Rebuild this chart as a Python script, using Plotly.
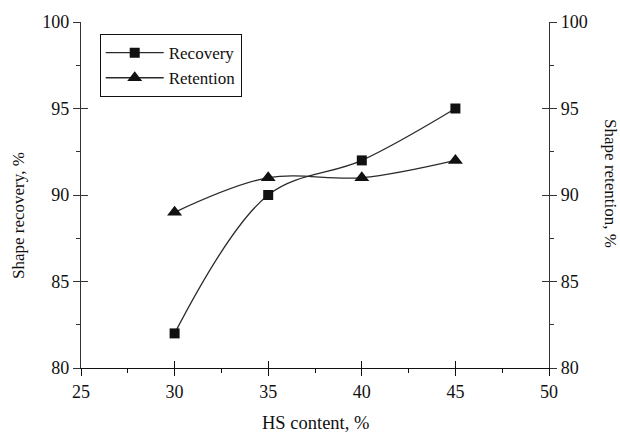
import plotly.graph_objects as go

hs_content = [30, 35, 40, 45]
recovery = [82, 90, 92, 95]
retention = [89, 91, 91, 92]

x_ticks = [25, 30, 35, 40, 45, 50]
y_ticks = [80, 85, 90, 95, 100]

FONT = "Liberation Serif"
AX = "#333333"

fig = go.Figure()
fig.add_trace(go.Scatter(
    x=hs_content, y=recovery, name="Recovery", mode="lines+markers",
    line=dict(color="#2a2a2a", width=1.3, shape="spline", smoothing=1),
    marker=dict(symbol="square", size=10, color="#111111"),
))
fig.add_trace(go.Scatter(
    x=hs_content, y=retention, name="Retention", mode="lines+markers",
    xaxis="x2", yaxis="y2",
    line=dict(color="#2a2a2a", width=1.3, shape="spline", smoothing=1),
    marker=dict(symbol="triangle-up", size=13, color="#111111"),
))
# empty traces so the inward-tick overlay axes get drawn (crossing ticks)
for ya in ("y3", "y4"):
    fig.add_trace(go.Scatter(x=[], y=[], xaxis="x2", yaxis=ya,
                             showlegend=False, hoverinfo="skip"))

common_x = dict(range=[25, 50], tickvals=x_ticks, showgrid=False, zeroline=False,
                showline=True, linecolor="#111111", linewidth=1.2,
                tickcolor="#111111", tickwidth=1.2, ticklen=7,
                minor=dict(dtick=2.5, tick0=25, ticklen=4, tickcolor="#111111", tickwidth=1))
common_y = dict(range=[80, 100], tickvals=y_ticks, showgrid=False, zeroline=False,
                showline=True, linecolor=AX, linewidth=1.2,
                tickcolor=AX, tickwidth=1.2, ticklen=7,
                minor=dict(dtick=2.5, tick0=80, ticklen=4, tickcolor=AX, tickwidth=1))

tick_font = dict(family=FONT, size=18, color="#111111")

fig.update_layout(
    width=620, height=433,
    margin=dict(l=81, r=71, t=20, b=65),
    paper_bgcolor="white", plot_bgcolor="white",
    showlegend=True,
    legend=dict(x=0.04, y=0.965, xanchor="left", yanchor="top",
                bordercolor="#111111", borderwidth=1, bgcolor="white",
                font=dict(family=FONT, size=17, color="#111111"),
                itemwidth=58),
    xaxis=dict(**common_x, ticks="outside", tickfont=tick_font),
    xaxis2=dict(**common_x, ticks="inside", showticklabels=False,
                overlaying="x", anchor="y", side="bottom"),
    yaxis=dict(**common_y, ticks="outside", tickfont=tick_font),
    yaxis2=dict(**common_y, ticks="outside", tickfont=tick_font,
                overlaying="y", side="right", anchor="x"),
    yaxis3=dict(**common_y, ticks="inside", showticklabels=False,
                overlaying="y", side="left", anchor="x"),
    yaxis4=dict(**common_y, ticks="inside", showticklabels=False,
                overlaying="y", side="right", anchor="x"),
    annotations=[
        dict(text="HS content, %", xref="paper", yref="paper", x=0.502, y=-0.158,
             xanchor="center", yanchor="middle", showarrow=False,
             font=dict(family=FONT, size=18.5, color="#111111")),
        dict(text="Shape recovery, %", xref="paper", yref="paper", x=-0.132, y=0.44,
             xanchor="center", yanchor="middle", showarrow=False, textangle=-90,
             font=dict(family=FONT, size=17, color="#111111")),
        dict(text="Shape retention, %", xref="paper", yref="paper", x=1.13, y=0.532,
             xanchor="center", yanchor="middle", showarrow=False, textangle=90,
             font=dict(family=FONT, size=17, color="#111111")),
    ],
)

fig.write_html("out.html")
